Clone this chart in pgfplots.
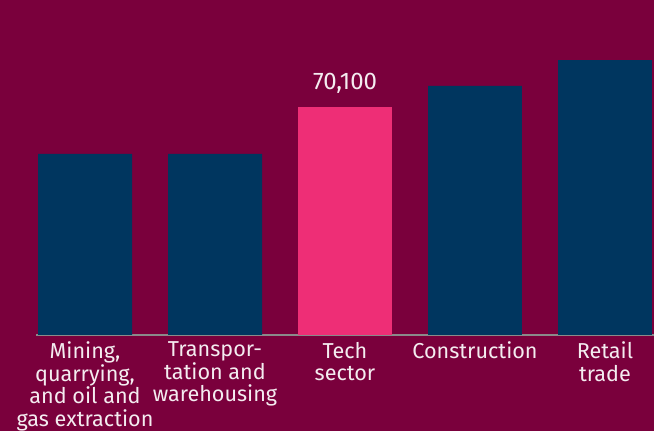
\documentclass[border=0pt]{standalone}
\usepackage{fontspec}
\setmainfont{Fira Sans}
\usepackage{pgfplots}
\pgfplotsset{compat=1.18}
\definecolor{bg}{HTML}{7A003C}
\definecolor{navy}{HTML}{00365F}
\definecolor{hot}{HTML}{EE2E76}
\definecolor{base}{HTML}{8A8A8A}
\definecolor{txt}{HTML}{F4ECF0}

\begin{document}
\begin{tikzpicture}
\fill[bg] (0,-72pt) rectangle (490.5pt,251.25pt);
\useasboundingbox (0,-72pt) rectangle (490.5pt,251.25pt);
\begin{axis}[
    at={(0,0)}, anchor=south west,
    scale only axis, width=490.5pt, height=251.25pt,
    xmin=-0.654, xmax=4.377, ymin=0, ymax=103000,
    axis line style={draw=none}, major tick length=0pt,
    ytick=\empty, xtick={0,1,2,3,4},
    xticklabels={{Mining,\\quarrying,\\and oil and\\gas extraction},
        {Transpor-\\tation and\\warehousing},{Tech\\sector},
        {Construction},{Retail\\trade}},
    xticklabel style={align=center, text=txt, inner sep=0pt,
        font=\fontsize{16.2}{16.9}\selectfont, anchor=north, yshift=-5pt},
    ybar, bar width=0.723, bar shift=0pt,
    clip=false,
]
\draw[base, line width=1.5pt] (axis cs:-0.377,0) -- (axis cs:4.377,0);
\addplot[fill=navy, draw=none] coordinates {(0,55650) (1,55700) (3,76600) (4,84550)};
\addplot[fill=hot, draw=none] coordinates {(2,70100)};
\node[above, text=txt, font=\fontsize{18}{20}\selectfont, inner sep=0pt, yshift=10pt]
    at (axis cs:2,70100) {70,100};
\end{axis}
\end{tikzpicture}
\end{document}
